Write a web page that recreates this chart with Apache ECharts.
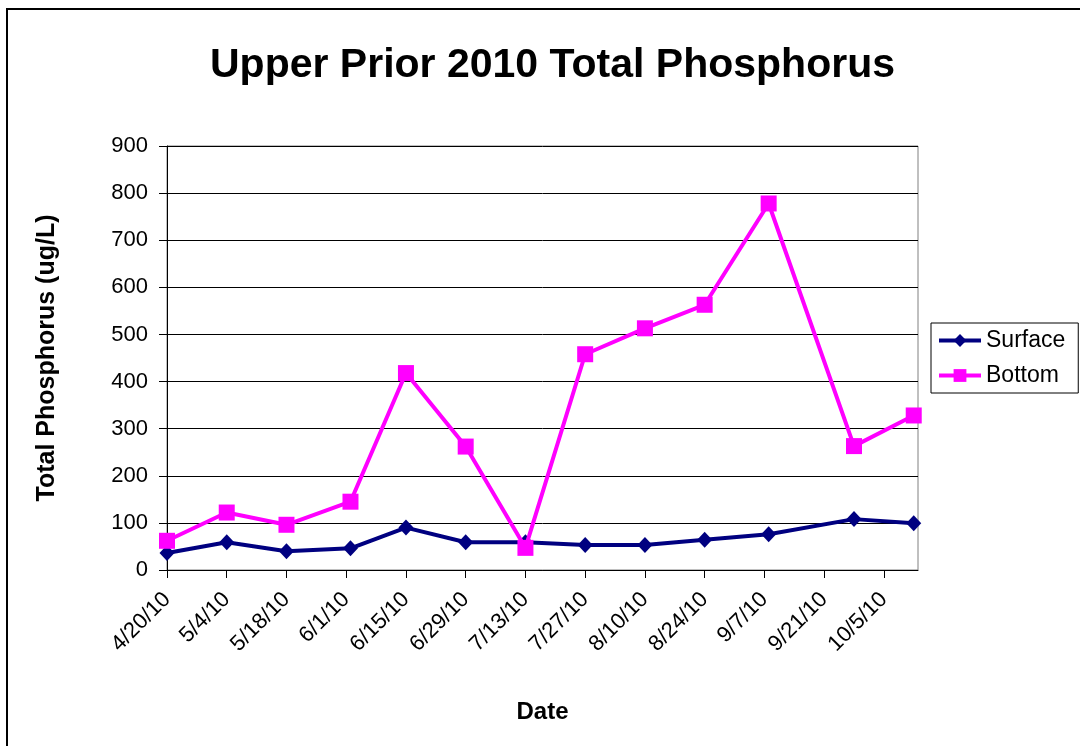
<!DOCTYPE html>
<html>
<head>
<meta charset="utf-8">
<script src="https://cdn.jsdelivr.net/npm/echarts@6/dist/echarts.min.js"></script>
<style>
  html, body { margin: 0; padding: 0; background: #fff; }
  #chart { width: 1080px; height: 746px; }
</style>
</head>
<body>
<div id="chart"></div>
<script>
// sample dates (month/day, 2010)
const sampleDates = ['4/20', '5/4', '5/18', '6/2', '6/15', '6/29', '7/13', '7/27', '8/10', '8/24', '9/8', '9/28', '10/12'];
const surfaceValues = [36, 59, 40, 46, 90, 59, 59, 53, 53, 64, 76, 108, 99];
const bottomValues = [62, 122, 96, 145, 418, 262, 47, 458, 513, 563, 778, 263, 328];
const tickDates = ['4/20', '5/4', '5/18', '6/1', '6/15', '6/29', '7/13', '7/27', '8/10', '8/24', '9/7', '9/21', '10/5'];
const axisStart = '4/20';
const axisEnd = '10/13';

// day number counted from the first date of the axis
function toDay(md) {
  const [m, d] = md.split('/').map(Number);
  const [m0, d0] = axisStart.split('/').map(Number);
  return Math.round((Date.UTC(2010, m - 1, d) - Date.UTC(2010, m0 - 1, d0)) / 86400000);
}

function fmt(day) {
  const [m0, d0] = axisStart.split('/').map(Number);
  const dt = new Date(Date.UTC(2010, m0 - 1, d0) + day * 86400000);
  return (dt.getUTCMonth() + 1) + '/' + dt.getUTCDate() + '/10';
}

const FONT = 'Liberation Sans, Arial, sans-serif';
const chart = echarts.init(document.getElementById('chart'), null, { renderer: 'canvas' });

const option = {
  backgroundColor: '#fff',
  animation: false,
  title: {
    text: 'Upper Prior 2010 Total Phosphorus',
    left: 205,
    top: 40,
    textStyle: { fontFamily: FONT, fontSize: 41, fontWeight: 'bold', color: '#000' }
  },
  graphic: [{
    type: 'rect',
    shape: { x: 7, y: 9, width: 1120, height: 800 },
    style: { fill: 'none', stroke: '#000', lineWidth: 2 },
    silent: true
  }],
  legend: {
    orient: 'vertical',
    left: 931,
    top: 323,
    padding: [6, 13, 6, 6],
    itemGap: 12,
    itemWidth: 42,
    itemHeight: 16,
    borderColor: '#000',
    borderWidth: 1,
    lineStyle: { width: 4 },
    textStyle: { fontFamily: FONT, fontSize: 23, color: '#000' },
    data: ['Surface', 'Bottom']
  },
  grid: { left: 167, top: 146, width: 751, height: 424, show: true, borderColor: '#808080', borderWidth: 1 },
  xAxis: {
    type: 'value',
    min: toDay(axisStart),
    max: toDay(axisEnd),
    name: 'Date',
    nameLocation: 'middle',
    nameGap: 130,
    nameTextStyle: { fontFamily: FONT, fontSize: 24, fontWeight: 'bold', color: '#000' },
    axisLine: { lineStyle: { color: '#000', width: 1 } },
    axisTick: { show: true, length: 8, lineStyle: { color: '#000' }, customValues: tickDates.map(toDay) },
    axisLabel: {
      customValues: tickDates.map(toDay),
      rotate: 45,
      margin: 26,
      fontFamily: FONT,
      fontSize: 22,
      color: '#000',
      formatter: (v) => fmt(v)
    },
    splitLine: { show: false }
  },
  yAxis: {
    type: 'value',
    min: 0,
    max: 900,
    interval: 100,
    name: 'Total Phosphorus (ug/L)',
    nameLocation: 'middle',
    nameGap: 107,
    nameTextStyle: { fontFamily: FONT, fontSize: 25, fontWeight: 'bold', color: '#000' },
    axisLine: { show: true, lineStyle: { color: '#000', width: 1 } },
    axisTick: { show: true, length: 8, lineStyle: { color: '#000' } },
    axisLabel: { fontFamily: FONT, fontSize: 22, color: '#000', margin: 19 },
    splitLine: { show: true, lineStyle: { color: '#000', width: 1 } }
  },
  series: [
    {
      name: 'Surface',
      type: 'line',
      data: sampleDates.map((d, i) => [toDay(d), surfaceValues[i]]),
      symbol: 'diamond',
      symbolSize: [15, 16],
      showAllSymbol: true,
      lineStyle: { color: '#000080', width: 4 },
      itemStyle: { color: '#000080' },
      z: 2
    },
    {
      name: 'Bottom',
      type: 'line',
      data: sampleDates.map((d, i) => [toDay(d), bottomValues[i]]),
      symbol: 'rect',
      symbolSize: 16,
      showAllSymbol: true,
      lineStyle: { color: '#FF00FF', width: 4 },
      itemStyle: { color: '#FF00FF' },
      z: 3
    }
  ]
};

chart.setOption(option);
</script>
</body>
</html>
